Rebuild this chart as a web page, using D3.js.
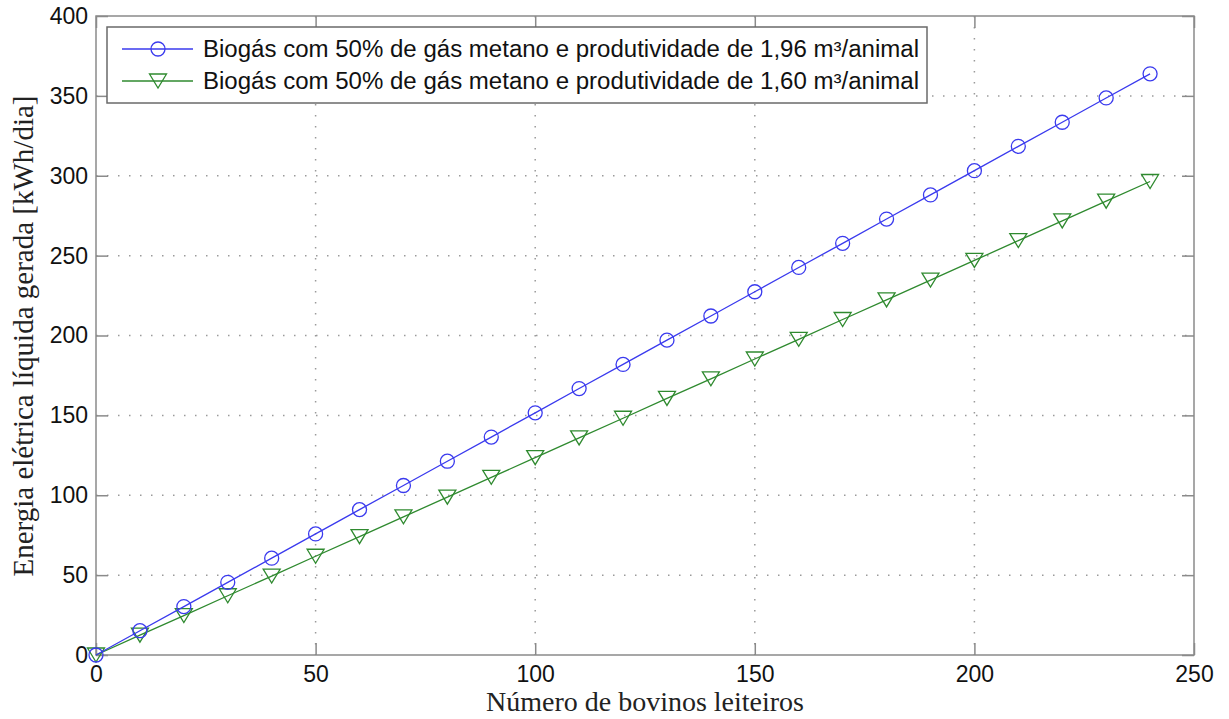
<!DOCTYPE html>
<html>
<head>
<meta charset="utf-8">
<script src="https://cdn.jsdelivr.net/npm/d3@7"></script>
<style>
  html, body { margin: 0; padding: 0; background: #fff; }
  svg { display: block; }
</style>
</head>
<body>
<svg id="chart" width="1229" height="719"></svg>
<script>
// Number of dairy cattle (x) and net electric energy (kWh/day) for two biogas yields
const herdSize = [0, 10, 20, 30, 40, 50, 60, 70, 80, 90, 100, 110, 120, 130, 140, 150, 160, 170, 180, 190, 200, 210, 220, 230, 240];
const energy196 = [0, 15.2, 30.3, 45.5, 60.6, 75.8, 91.0, 106.1, 121.3, 136.4, 151.6, 166.8, 181.9, 197.1, 212.2, 227.4, 242.6, 257.7, 272.9, 288.0, 303.2, 318.4, 333.5, 348.7, 363.8];
const energy160 = [0, 12.4, 24.7, 37.1, 49.4, 61.8, 74.1, 86.5, 98.8, 111.2, 123.5, 135.9, 148.2, 160.6, 172.9, 185.3, 197.6, 210.0, 222.3, 234.7, 247.0, 259.4, 271.7, 284.1, 296.4];
const xTicks = [0, 50, 100, 150, 200, 250];
const yTicks = [0, 50, 100, 150, 200, 250, 300, 350, 400];
const seriesNames = [
  "Biogás com 50% de gás metano e produtividade de 1,96 m³/animal",
  "Biogás com 50% de gás metano e produtividade de 1,60 m³/animal"
];

const svg = d3.select("#chart");
const plot = { left: 96, right: 1194, top: 16, bottom: 655 };

const x = d3.scaleLinear().domain([0, 250]).range([plot.left, plot.right]);
const y = d3.scaleLinear().domain([0, 400]).range([plot.bottom, plot.top]);

const axisColor = "#8a8a8a";
const blue = "#3a3aee";
const green = "#2f8a2f";
const sans = "Liberation Sans, Arial, sans-serif";
const serif = "Liberation Serif, Times New Roman, serif";

// dotted grid
const grid = svg.append("g");
grid.selectAll("line.gx").data(xTicks.slice(1, -1)).join("line")
  .attr("x1", d => x(d)).attr("x2", d => x(d))
  .attr("y1", plot.top).attr("y2", plot.bottom)
  .attr("stroke", "#9a9a9a").attr("stroke-width", 1.5)
  .attr("stroke-dasharray", "1.5,9.5");
grid.selectAll("line.gy").data(yTicks.slice(1, -1)).join("line")
  .attr("y1", d => y(d)).attr("y2", d => y(d))
  .attr("x1", plot.left).attr("x2", plot.right)
  .attr("stroke", "#9a9a9a").attr("stroke-width", 1.5)
  .attr("stroke-dasharray", "1.5,9.5");

// axes with inward ticks on all four sides
const tickLen = 12;
function styleAxis(g) {
  g.select(".domain").remove();
  g.selectAll(".tick line").attr("stroke", axisColor).attr("stroke-width", 1.5);
  g.selectAll(".tick text").attr("fill", "#111")
    .attr("font-family", sans).attr("font-size", 23);
}
svg.append("g").attr("transform", `translate(0,${plot.bottom})`)
  .call(d3.axisBottom(x).tickValues(xTicks).tickSizeInner(-tickLen).tickSizeOuter(0).tickPadding(11).tickFormat(d3.format("d")))
  .call(styleAxis);
svg.append("g").attr("transform", `translate(0,${plot.top})`)
  .call(d3.axisTop(x).tickValues(xTicks).tickSizeInner(-tickLen).tickSizeOuter(0).tickFormat(""))
  .call(styleAxis);
svg.append("g").attr("transform", `translate(${plot.left},0)`)
  .call(d3.axisLeft(y).tickValues(yTicks).tickSizeInner(-tickLen).tickSizeOuter(0).tickPadding(8).tickFormat(d3.format("d")))
  .call(styleAxis);
svg.append("g").attr("transform", `translate(${plot.right},0)`)
  .call(d3.axisRight(y).tickValues(yTicks).tickSizeInner(-tickLen).tickSizeOuter(0).tickFormat(""))
  .call(styleAxis);

// plot frame
svg.append("rect")
  .attr("x", plot.left).attr("y", plot.top)
  .attr("width", plot.right - plot.left).attr("height", plot.bottom - plot.top)
  .attr("fill", "none").attr("stroke", axisColor).attr("stroke-width", 1.5);

// series
const line = d3.line().x(d => x(d[0])).y(d => y(d[1]));
const s1 = herdSize.map((h, i) => [h, energy196[i]]);
const s2 = herdSize.map((h, i) => [h, energy160[i]]);

const triPath = (w, h) => `M${-w / 2},${-h / 2}L${w / 2},${-h / 2}L0,${h / 2}Z`;

function drawSeries(data, color, marker) {
  const g = svg.append("g");
  g.append("path").datum(data).attr("d", line)
    .attr("fill", "none").attr("stroke", color).attr("stroke-width", 1.3);
  if (marker === "circle") {
    g.selectAll("circle").data(data).join("circle")
      .attr("cx", d => x(d[0])).attr("cy", d => y(d[1])).attr("r", 7)
      .attr("fill", "none").attr("stroke", color).attr("stroke-width", 1.3);
  } else {
    g.selectAll("path.m").data(data).join("path").attr("class", "m")
      .attr("transform", d => `translate(${x(d[0])},${y(d[1])})`)
      .attr("d", triPath(17, 14))
      .attr("fill", "none").attr("stroke", color).attr("stroke-width", 1.3);
  }
}
drawSeries(s2, green, "triangle");
drawSeries(s1, blue, "circle");

// legend
const legend = svg.append("g");
legend.append("rect").attr("x", 107).attr("y", 27).attr("width", 820).attr("height", 76)
  .attr("fill", "#fff").attr("stroke", "#6a6a6a").attr("stroke-width", 1.5);
const legendRows = [
  { name: seriesNames[0], color: blue, marker: "circle", cy: 49 },
  { name: seriesNames[1], color: green, marker: "triangle", cy: 81 }
];
legendRows.forEach(r => {
  legend.append("line").attr("x1", 122).attr("x2", 193).attr("y1", r.cy).attr("y2", r.cy)
    .attr("stroke", r.color).attr("stroke-width", 1.3);
  if (r.marker === "circle") {
    legend.append("circle").attr("cx", 158).attr("cy", r.cy).attr("r", 7)
      .attr("fill", "none").attr("stroke", r.color).attr("stroke-width", 1.3);
  } else {
    legend.append("path").attr("transform", `translate(158,${r.cy})`).attr("d", triPath(17, 14))
      .attr("fill", "none").attr("stroke", r.color).attr("stroke-width", 1.3);
  }
  legend.append("text").attr("x", 203).attr("y", r.cy + 8)
    .attr("font-family", sans).attr("font-size", 23)
    .attr("textLength", 716).attr("lengthAdjust", "spacingAndGlyphs")
    .attr("fill", "#111").text(r.name);
});

// axis titles
svg.append("text").attr("x", 645).attr("y", 711).attr("text-anchor", "middle")
  .attr("font-family", serif).attr("font-size", 28)
  .attr("fill", "#222").text("Número de bovinos leiteiros");
svg.append("text").attr("transform", "translate(33,336) rotate(-90)").attr("text-anchor", "middle")
  .attr("font-family", serif).attr("font-size", 29)
  .attr("fill", "#222").text("Energia elétrica líquida gerada [kWh/dia]");
</script>
</body>
</html>
